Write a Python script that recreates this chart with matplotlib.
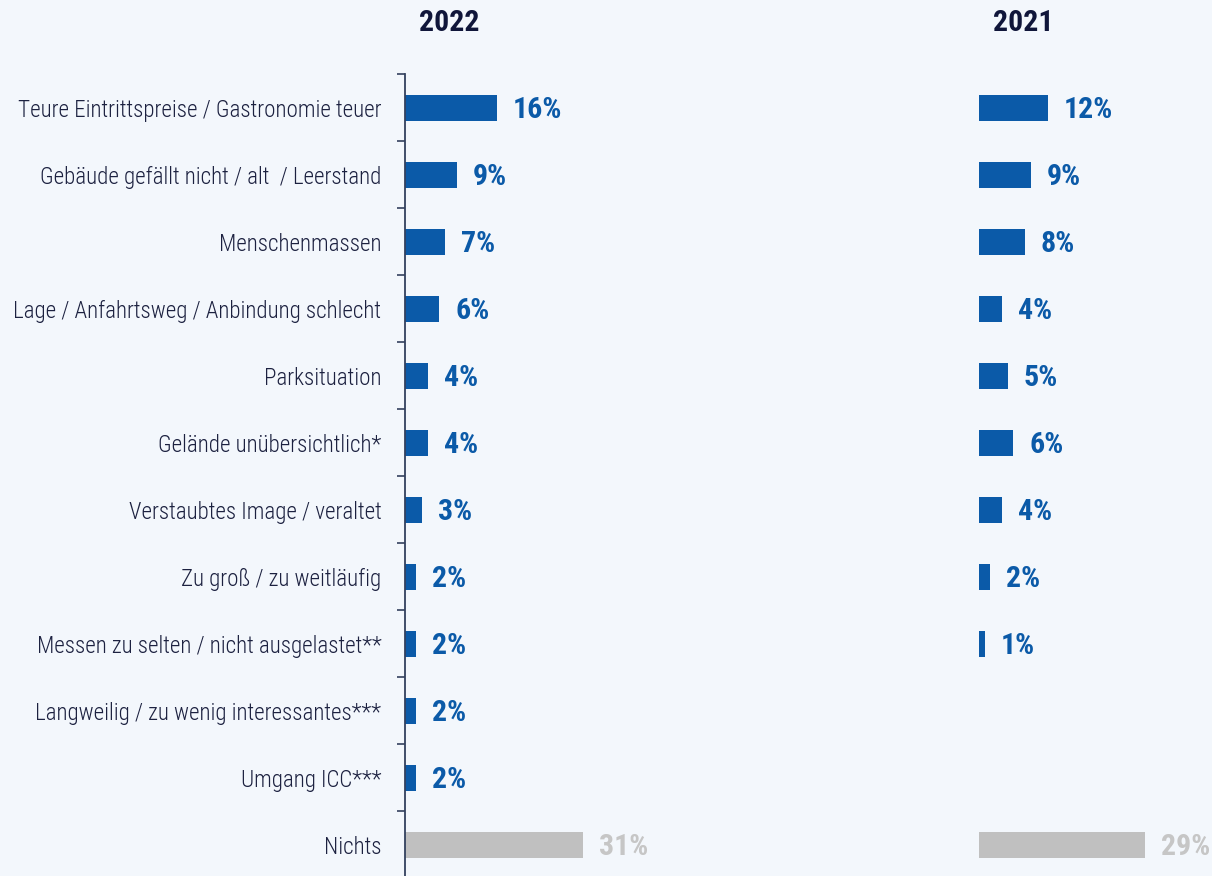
import numpy as np
import matplotlib
matplotlib.use("Agg")
import matplotlib.pyplot as plt

# Reasons against visiting, share of respondents per year
categories = [
    "Teure Eintrittspreise / Gastronomie teuer",
    "Gebäude gefällt nicht / alt  / Leerstand",
    "Menschenmassen",
    "Lage / Anfahrtsweg / Anbindung schlecht",
    "Parksituation",
    "Gelände unübersichtlich*",
    "Verstaubtes Image / veraltet",
    "Zu groß / zu weitläufig",
    "Messen zu selten / nicht ausgelastet**",
    "Langweilig / zu wenig interessantes***",
    "Umgang ICC***",
    "Nichts",
]
values_2022 = [16, 9, 7, 6, 4, 4, 3, 2, 2, 2, 2, 31]
values_2021 = [12, 9, 8, 4, 5, 6, 4, 2, 1, np.nan, np.nan, 29]
years = ["2022", "2021"]

FONT = ["Roboto Condensed", "DejaVu Sans"]
plt.rcParams["font.family"] = FONT
plt.rcParams["font.stretch"] = "condensed"

BG = "#f3f7fc"
BLUE = "#0b5aa8"
GREY_BAR = "#c0c0c0"
GREY_TXT = "#c6c6c6"
NAVY = "#1c2140"
AXIS = "#33415e"

W, H = 1212, 876
fig = plt.figure(figsize=(W / 100, H / 100), dpi=100, facecolor=BG)

y_top_px = 74.5
ax_h = (H - y_top_px) / H
ax_w = 233 / W
ax_left = fig.add_axes([405 / W, 0, ax_w, ax_h])
ax_right = fig.add_axes([979 / W, 0, ax_w, ax_h])

pos = np.arange(len(categories))
xmax = 233 / 5.73

for ax, vals, year in zip((ax_left, ax_right), (values_2022, values_2021), years):
    ax.set_facecolor(BG)
    colors = [GREY_BAR if c == "Nichts" else BLUE for c in categories]
    ax.barh(pos, vals, height=0.4, color=colors, zorder=2)
    for p, v, c in zip(pos, vals, categories):
        if np.isnan(v):
            continue
        ax.annotate(f"{v:.0f}%", xy=(v, p), xytext=(11.5, -1.3),
                    textcoords="offset points", ha="left", va="center",
                    fontsize=21.5, fontweight="bold",
                    color=GREY_TXT if c == "Nichts" else BLUE)
    ax.set_xlim(0, xmax)
    ax.set_ylim(11.463, -0.5)
    ax.set_xticks([])
    for s in ("top", "right", "bottom"):
        ax.spines[s].set_visible(False)
    # year heading above each panel
    ax_x0 = ax.get_position().x0
    fig.text(ax_x0 + 44 / W, 1 - 23 / H, year, ha="center", va="center",
             fontsize=21.5, fontweight="bold", color="#10163a")

# left panel: category axis with separators between rows
ax_left.spines["left"].set_color(AXIS)
ax_left.spines["left"].set_linewidth(1.3)
ax_left.set_yticks(pos)
ax_left.set_yticklabels(categories, fontsize=16.6, color=NAVY, fontweight="light")
ax_left.tick_params(axis="y", which="major", length=0, pad=17)
ax_left.set_yticks(np.arange(-0.5, 11, 1.0), minor=True)
ax_left.tick_params(axis="y", which="minor", length=5.8, width=1.2,
                    color=AXIS, direction="out")

# right panel: bars only
ax_right.spines["left"].set_visible(False)
ax_right.set_yticks([])

fig.savefig("out.png", dpi=100, facecolor=BG)
